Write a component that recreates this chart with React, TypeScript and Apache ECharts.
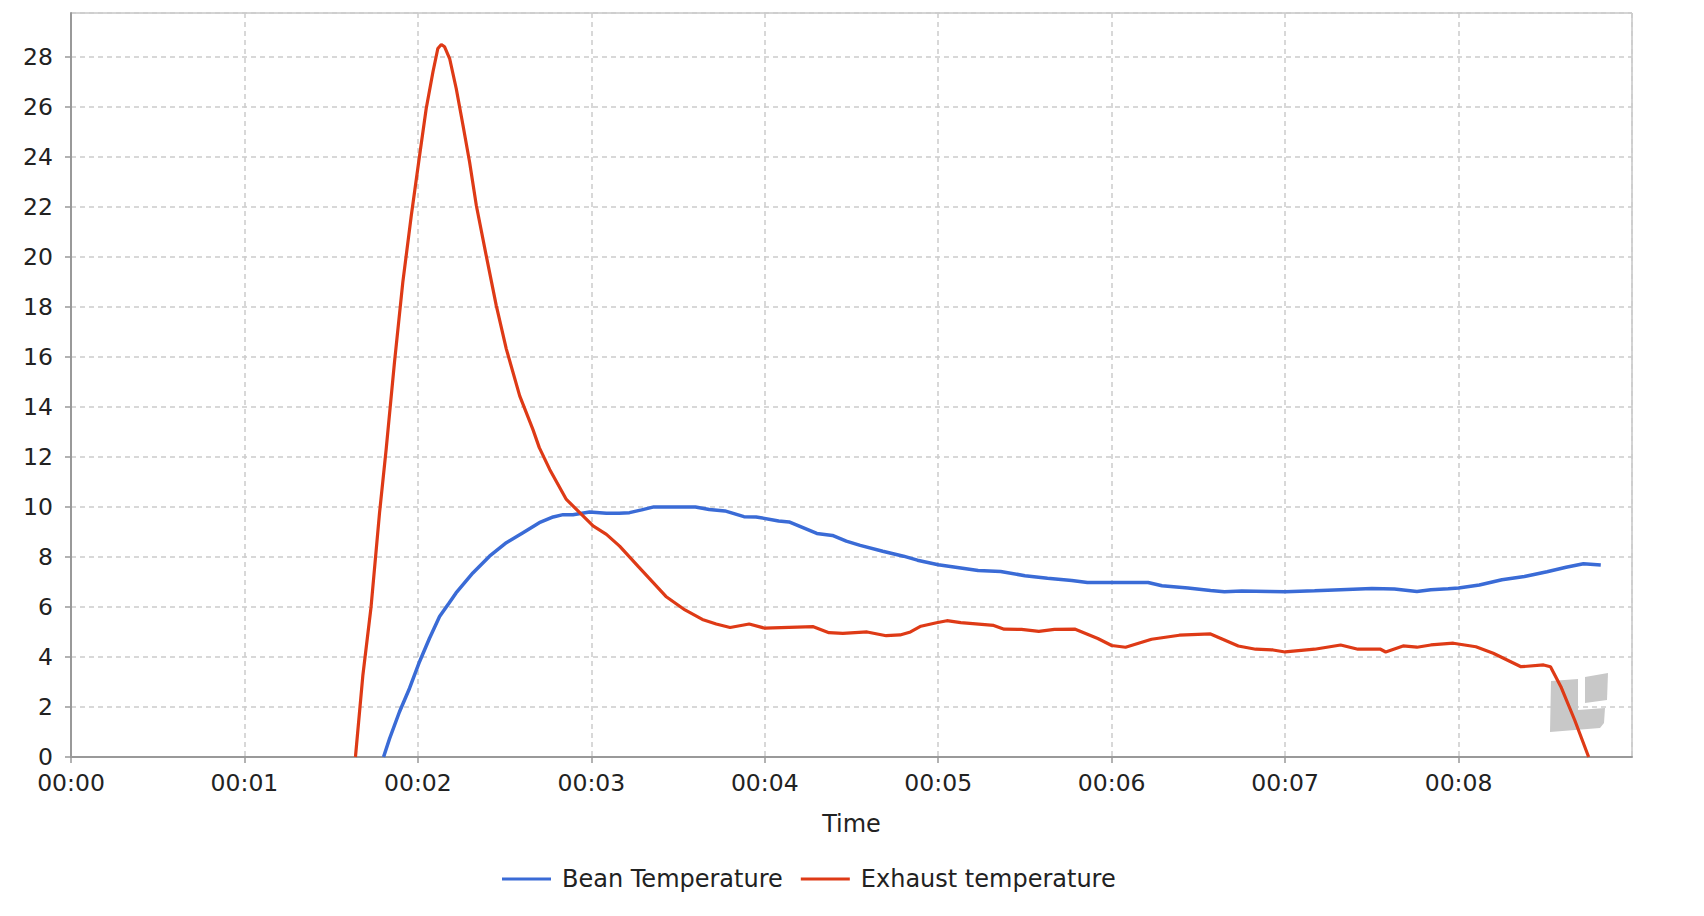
import React, { useEffect, useRef } from "react";
import * as echarts from "echarts";

// roast time in minutes + readings
const beanTime = [
  1.802, 1.837, 1.894, 1.952, 2.01, 2.067, 2.125, 2.18, 2.22, 2.317, 2.413, 2.51, 2.606, 2.7, 2.78, 2.837,
  2.894, 2.99, 3.087, 3.16, 3.22, 3.29, 3.36, 3.6, 3.68, 3.77, 3.88, 3.95, 4.08, 4.14, 4.22, 4.3, 4.39,
  4.47, 4.55, 4.68, 4.8, 4.88, 5.0, 5.09, 5.23, 5.36, 5.5, 5.63, 5.77, 5.86, 6.0, 6.21, 6.29, 6.44, 6.57,
  6.65, 6.75, 6.91, 7.0, 7.17, 7.32, 7.5, 7.63, 7.76, 7.84, 7.94, 8.0, 8.12, 8.25, 8.38, 8.51, 8.62, 8.72,
  8.82,
];
const beanTemp = [
  0, 0.74, 1.81, 2.75, 3.82, 4.75, 5.62, 6.16, 6.56, 7.36, 8.03, 8.57, 8.97, 9.37, 9.6, 9.69, 9.69, 9.8,
  9.75, 9.75, 9.77, 9.88, 10.0, 10.0, 9.9, 9.84, 9.61, 9.6, 9.44, 9.4, 9.17, 8.94, 8.86, 8.63, 8.46, 8.23,
  8.03, 7.87, 7.69, 7.6, 7.46, 7.42, 7.25, 7.15, 7.06, 6.98, 6.98, 6.98, 6.85, 6.76, 6.66, 6.61, 6.64, 6.62,
  6.61, 6.65, 6.69, 6.74, 6.72, 6.62, 6.69, 6.73, 6.76, 6.88, 7.09, 7.22, 7.41, 7.59, 7.73, 7.68,
];

const exhaustTime = [
  1.64, 1.683, 1.73, 1.779, 1.817, 1.865, 1.913, 1.962, 2.01, 2.048, 2.087, 2.115, 2.135, 2.154, 2.183,
  2.221, 2.26, 2.298, 2.337, 2.394, 2.452, 2.51, 2.587, 2.663, 2.7, 2.76, 2.856, 2.952, 3.01, 3.087, 3.163,
  3.27, 3.35, 3.43, 3.54, 3.64, 3.72, 3.8, 3.91, 4.0, 4.28, 4.37, 4.45, 4.59, 4.7, 4.78, 4.84, 4.9, 4.99,
  5.05, 5.13, 5.32, 5.38, 5.48, 5.58, 5.67, 5.79, 5.92, 6.0, 6.08, 6.23, 6.39, 6.57, 6.73, 6.83, 6.93, 7.0,
  7.17, 7.32, 7.42, 7.55, 7.58, 7.68, 7.76, 7.84, 7.97, 8.1, 8.2, 8.28, 8.36, 8.49, 8.53, 8.59, 8.67, 8.75,
];
const exhaustTemp = [
  0, 3.28, 6.0, 9.77, 12.3, 15.78, 18.98, 21.65, 24.06, 25.93, 27.4, 28.33, 28.49, 28.4, 27.93, 26.73,
  25.26, 23.79, 22.05, 20.05, 18.05, 16.31, 14.44, 13.1, 12.37, 11.5, 10.3, 9.64, 9.24, 8.9, 8.43, 7.62,
  7.02, 6.42, 5.88, 5.5, 5.32, 5.18, 5.32, 5.15, 5.21, 4.97, 4.94, 5.0, 4.85, 4.88, 5.0, 5.23, 5.37, 5.45,
  5.37, 5.26, 5.11, 5.1, 5.02, 5.1, 5.11, 4.74, 4.46, 4.39, 4.71, 4.87, 4.92, 4.44, 4.31, 4.28, 4.2, 4.31,
  4.48, 4.31, 4.31, 4.2, 4.44, 4.39, 4.48, 4.55, 4.41, 4.15, 3.88, 3.61, 3.68, 3.61, 2.81, 1.47, 0,
];

const seriesNames = ["Bean Temperature", "Exhaust temperature"];
const seriesColors = ["#3a6bd6", "#de3a16"];
const xMax = 9; // minutes
const yMax = 29.75;

const FONT = "DejaVu Sans";

const App: React.FC = () => {
  const chartRef = useRef<HTMLDivElement>(null);

  useEffect(() => {
    const chart = echarts.init(chartRef.current, null, { renderer: "svg" });

    const pairs = (t: number[], v: number[]) => t.map((x, i) => [x, v[i]]);
    const gridLine = { show: true, lineStyle: { color: "#cccccc", width: 1.5, type: [5, 4] as number[] } };

    const option: echarts.EChartsOption = {
      animation: false,
      backgroundColor: "#ffffff",
      textStyle: { fontFamily: FONT },
      grid: {
        left: 71,
        right: 72,
        top: 13,
        bottom: 159,
        show: true,
        borderColor: "#aaaaaa",
        borderWidth: 1,
      },
      legend: {
        data: seriesNames,
        left: 502,
        top: 865,
        padding: 0,
        icon: "rect",
        itemWidth: 49,
        itemHeight: 3,
        itemGap: 18,
        textStyle: { fontFamily: FONT, fontSize: 24, lineHeight: 28, color: "#222", padding: [0, 0, 0, 6] },
      },
      xAxis: {
        type: "value",
        min: 0,
        max: xMax,
        interval: 1,
        name: "Time",
        nameLocation: "middle",
        nameGap: 55,
        nameTextStyle: { fontFamily: FONT, fontSize: 24, color: "#222" },
        axisLine: { show: true, lineStyle: { color: "#999999", width: 2 } },
        axisTick: { show: true, length: 6, lineStyle: { color: "#999999", width: 1.5 } },
        axisLabel: {
          fontFamily: FONT,
          fontSize: 23.5,
          color: "#222",
          margin: 14,
          showMaxLabel: false,
          formatter: (v: number) => "00:" + String(Math.round(v)).padStart(2, "0"),
        },
        splitLine: gridLine,
      },
      yAxis: {
        type: "value",
        min: 0,
        max: yMax,
        interval: 2,
        axisLine: { show: true, lineStyle: { color: "#999999", width: 2 } },
        axisTick: { show: true, length: 6, lineStyle: { color: "#999999", width: 1.5 } },
        axisLabel: {
          fontFamily: FONT,
          fontSize: 23.5,
          color: "#222",
          margin: 18,
          showMaxLabel: false,
        },
        splitLine: gridLine,
      },
      graphic: [
        {
          type: "polygon",
          z: 1,
          shape: {
            points: [
              [1551, 681], [1578, 679], [1578, 710], [1605, 708], [1604, 723], [1600, 728], [1550, 732],
            ],
          },
          style: { fill: "#c8c8c8" },
        },
        {
          type: "polygon",
          z: 1,
          shape: { points: [[1585, 677], [1608, 673], [1607, 700], [1585, 703]] },
          style: { fill: "#c8c8c8" },
        },
      ],
      series: [
        {
          name: seriesNames[0],
          type: "line",
          symbol: "none",
          z: 3,
          data: pairs(beanTime, beanTemp),
          color: seriesColors[0],
          lineStyle: { color: seriesColors[0], width: 3.5 },
        },
        {
          name: seriesNames[1],
          type: "line",
          symbol: "none",
          z: 4,
          data: pairs(exhaustTime, exhaustTemp),
          color: seriesColors[1],
          lineStyle: { color: seriesColors[1], width: 3.2 },
        },
      ],
    };

    chart.setOption(option);
    const onResize = () => chart.resize();
    window.addEventListener("resize", onResize);
    return () => {
      window.removeEventListener("resize", onResize);
      chart.dispose();
    };
  }, []);

  return (
    <div
      ref={chartRef}
      style={{ position: "fixed", left: 0, top: 0, width: "100vw", height: "100vh" }}
    />
  );
};

export default App;
